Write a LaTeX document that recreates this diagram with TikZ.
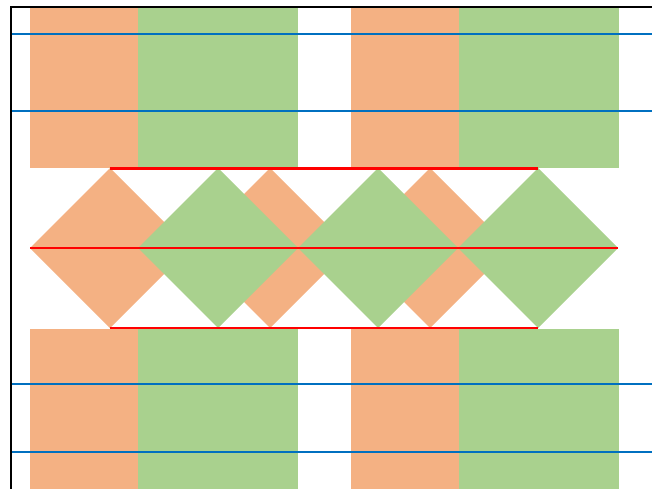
\documentclass[tikz,border=0pt]{standalone}
\usepackage{xcolor}
\usepackage{tikz}
\usetikzlibrary{positioning}

\definecolor{peach}{HTML}{F4B183}
\definecolor{sage}{HTML}{A9D18E}
\definecolor{steel}{HTML}{0070C0}

\begin{document}
\begin{tikzpicture}[x=1pt, y=-1pt]

  \tikzstyle{warm}=[fill=peach]
  \tikzstyle{cool}=[fill=sage]
  \tikzstyle{level}=[draw=steel, line width=2pt]
  \tikzstyle{edge}=[draw=red, line width=2.2pt]
  \tikzstyle{frame}=[draw=black, line width=2pt]

  \useasboundingbox (0,0) rectangle (652,489);

  % blocks above and below
  \foreach \x in {30, 351} {
    \path [warm] (\x, 8) rectangle ++(107.5, 160);
    \path [cool] (\x+107.5, 8) rectangle ++(160.5, 160);
    \path [warm] (\x, 329) rectangle ++(107.5, 160);
    \path [cool] (\x+107.5, 329) rectangle ++(160.5, 160);
  }

  % diamonds
  \foreach \c in {110, 270, 430}
    \path [warm] (\c-80, 248) -- (\c, 168) -- (\c+80, 248) -- (\c, 328) -- cycle;
  \foreach \c in {218, 378, 538}
    \path [cool] (\c-80, 248) -- (\c, 168) -- (\c+80, 248) -- (\c, 328) -- cycle;

  % horizontal lines
  \foreach \y in {34, 111, 384, 452}
    \path [level] (12, \y) -- (652, \y);

  \path [edge] (110, 168.5) -- (538, 168.5);
  \path [edge] (30, 248) -- (618, 248);
  \path [edge] (110, 328) -- (538, 328);

  \path [frame] (11, 489) -- (11, 7) -- (652, 7);
\end{tikzpicture}
\end{document}
